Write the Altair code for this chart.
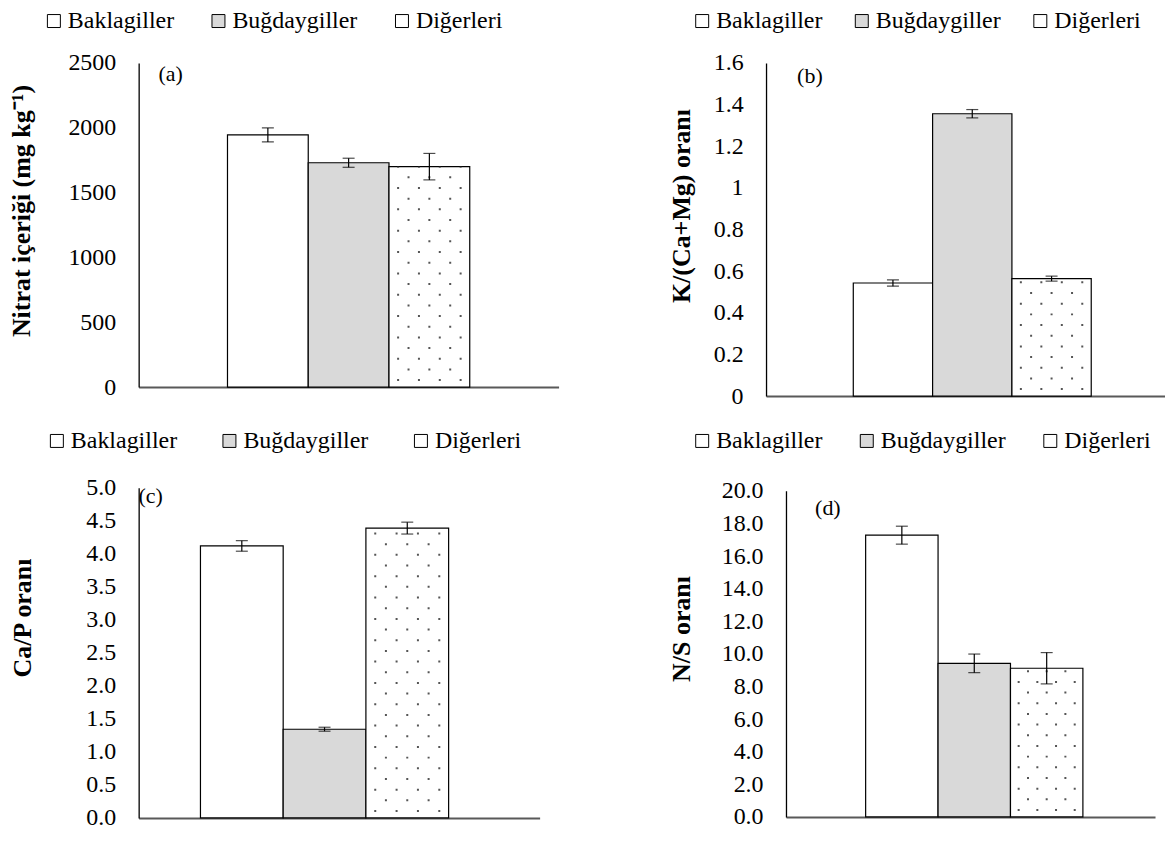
import altair as alt
import pandas as pd

# ---------------- data ----------------
categories = ["Baklagiller", "Buğdaygiller", "Diğerleri"]

nitrat = [1945, 1730, 1700]
nitrat_err = [54, 35, 102]

k_camg = [0.543, 1.356, 0.564]
k_camg_err = [0.015, 0.020, 0.012]

ca_p = [4.12, 1.344, 4.39]
ca_p_err = [0.08, 0.03, 0.09]

n_s = [17.28, 9.42, 9.12]
n_s_err = [0.55, 0.57, 0.96]

ticks_a = [0, 500, 1000, 1500, 2000, 2500]
ticks_b = [0, 0.2, 0.4, 0.6, 0.8, 1.0, 1.2, 1.4, 1.6]
ticks_c = [0, 0.5, 1.0, 1.5, 2.0, 2.5, 3.0, 3.5, 4.0, 4.5, 5.0]
ticks_d = [0, 2, 4, 6, 8, 10, 12, 14, 16, 18, 20]

titles = ["Nitrat içeriği (mg kg⁻¹)", "K/(Ca+Mg) oranı", "Ca/P oranı", "N/S oranı"]
panel_tags = ["(a)", "(b)", "(c)", "(d)"]

# ---------------- style ----------------
FONT = "Liberation Serif"
FILLS = ["#ffffff", "#d9d9d9", "#ffffff"]
DOT_COLS = 7  # dotted texture columns inside the "Diğerleri" bar


def panel(vals, errs, ymax, ticks, fmt, title, tag, L):
    df = pd.DataFrame({"cat": categories, "idx": [0, 1, 2], "val": vals, "err": errs})
    base = alt.Chart(df).transform_calculate(
        x0="datum.idx - 0.5", x1="datum.idx + 0.5",
        lo="datum.val - datum.err", hi="datum.val + datum.err", zero="0",
    )
    xscale = alt.Scale(domain=[L["xmin"], L["xmax"]], nice=False, zero=False)
    yscale = alt.Scale(domain=[0, ymax], nice=False)
    xaxis = alt.Axis(labels=False, ticks=False, title=None, grid=False,
                     domainColor="#595959", domainWidth=2)
    yaxis = alt.Axis(values=ticks, format=fmt, title=title, grid=False, ticks=False,
                     tickSize=0, labelPadding=L["lp"], labelOverlap=False,
                     domainColor="black", domainWidth=1.3,
                     labelFont=FONT, labelFontSize=24, labelColor="black",
                     titleFont=FONT, titleFontSize=26, titleFontWeight="bold",
                     titleColor="black", titleAngle=270, titleBaseline="alphabetic",
                     titleAlign="center", titleX=L["tX"], titleY=L["tY"])

    def X(f):
        return alt.X(f, type="quantitative", scale=xscale, axis=xaxis, title=None)

    def Y(f):
        return alt.Y(f, type="quantitative", scale=yscale, axis=yaxis, title=title)

    bars = base.mark_bar(stroke="black", strokeWidth=1.2).encode(
        x=X("x0"), x2="x1:Q", y=Y("val"), y2="zero:Q",
        fill=alt.Fill("cat:N", sort=categories,
                      scale=alt.Scale(domain=categories, range=FILLS),
                      legend=alt.Legend(title=None, orient="none", legendX=L["lx"],
                                        legendY=L["ly"], direction="horizontal",
                                        columnPadding=L["cp"], symbolType="square",
                                        symbolSize=169, symbolStrokeColor="black",
                                        symbolStrokeWidth=1, labelFont=FONT,
                                        labelFontSize=24, labelColor="black",
                                        labelOffset=2, padding=0, offset=0)),
    )

    # dotted texture of the third bar (pattern fill)
    dots_df = pd.DataFrame({
        "dx": [2 - 0.5 + (k + 0.875) / (DOT_COLS + 0.75) for k in range(DOT_COLS)],
        "val": [vals[2]] * DOT_COLS,
        "par": [k % 2 for k in range(DOT_COLS)],
    })
    dbase = alt.Chart(dots_df).transform_calculate(zero="0")
    dots = []
    for p, off in [(0, 15.4), (1, 4.7)]:
        dots.append(
            dbase.transform_filter(alt.datum.par == p).mark_rule(
                color="#555555", strokeWidth=2, strokeDash=[2, 19.4],
                strokeDashOffset=off, strokeCap="butt",
            ).encode(x=X("dx"), y=Y("zero"), y2="val:Q")
        )

    err_rule = base.mark_rule(color="black", strokeWidth=1.2).encode(
        x=X("idx"), y=Y("lo"), y2="hi:Q")
    caps = base.transform_fold(["lo", "hi"], as_=["k", "v"]).mark_tick(
        orient="horizontal", size=12, thickness=1.2, color="black"
    ).encode(x=X("idx"), y=Y("v"))

    lab = alt.Chart(pd.DataFrame({"t": [tag]})).mark_text(
        font=FONT, fontSize=22, color="black", align="center", baseline="middle"
    ).encode(x=alt.value(L["labx"]), y=alt.value(L["laby"]), text="t:N")

    layers = [bars, *dots, err_rule, caps, lab]
    if L.get("pad_right"):
        # invisible spacer widening the panel's layout box to the right
        layers.append(
            alt.Chart(pd.DataFrame({"t": [0]})).mark_rule(opacity=0).encode(
                x=alt.value(L["W"]), x2=alt.value(L["W"] + L["pad_right"]),
                y=alt.value(L["H"]))
        )
    return alt.layer(*layers).properties(width=L["W"], height=L["H"])


La = dict(W=421, H=325, xmin=-1.6, xmax=3.6, lp=23, lx=-97, ly=-54, cp=32,
          tX=-109.5, tY=148, labx=32, laby=11)
Lb = dict(W=400, H=334, xmin=-1.6, xmax=3.43, lp=23, lx=-76, ly=-54, cp=27,
          tX=-77, tY=143, labx=44, laby=13)
Lc = dict(W=402, H=331, xmin=-1.247, xmax=3.6, lp=23, lx=-94, ly=-59, cp=40,
          tX=-108, tY=130, labx=12, laby=8, pad_right=58)
Ld = dict(W=370, H=327, xmin=-1.6, xmax=3.496, lp=23, lx=-96, ly=-62, cp=32,
          tX=-97, tY=138, labx=42, laby=17)

pa = panel(nitrat, nitrat_err, 2500, ticks_a, "d", titles[0], panel_tags[0], La)
pb = panel(k_camg, k_camg_err, 1.6, ticks_b, "~g", titles[1], panel_tags[1], Lb)
pc = panel(ca_p, ca_p_err, 5.0, ticks_c, ".1f", titles[2], panel_tags[2], Lc)
pd_ = panel(n_s, n_s_err, 20.0, ticks_d, ".1f", titles[3], panel_tags[3], Ld)

chart = alt.concat(pa, pb, pc, pd_, columns=2, align="none",
                   spacing={"column": 71, "row": 21}).resolve_scale(
    fill="independent").resolve_legend(fill="independent").properties(
    padding={"left": 0, "top": 0, "right": 0, "bottom": 0},
    background="#ffffff",
).configure(
    font=FONT,
    view=alt.ViewConfig(strokeWidth=0),
)

chart.save("out.html", embed_options={"renderer": "svg", "actions": False})
